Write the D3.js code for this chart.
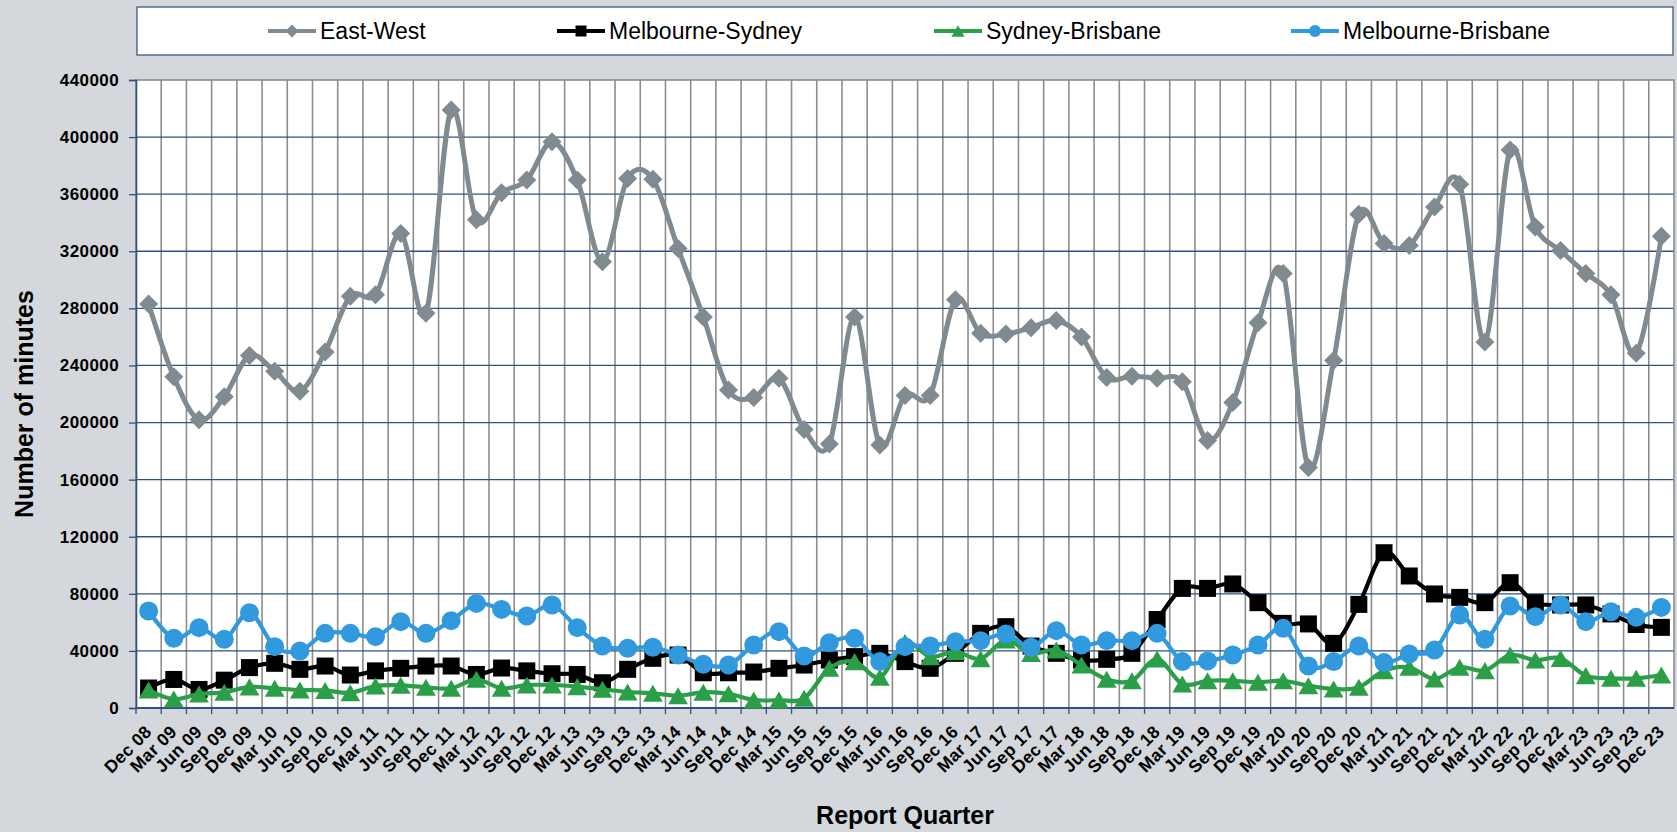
<!DOCTYPE html>
<html lang="en">
<head>
  <meta charset='utf-8'>
  <title>Report Quarter minutes</title>
  <style>
    html, body { margin: 0; padding: 0; background: #d4d8dc; }
    svg { display: block; font-family: "Liberation Sans", Arial, sans-serif; }
  </style>
</head>
<body>
  <div id="chart"></div>

<script src="https://d3js.org/d3.v7.min.js"></script>
<script>
    ////////////////////////////////////////////////// DATA
    var quarters = [
      "Dec 08","Mar 09","Jun 09","Sep 09","Dec 09","Mar 10","Jun 10","Sep 10","Dec 10",
      "Mar 11","Jun 11","Sep 11","Dec 11","Mar 12","Jun 12","Sep 12","Dec 12",
      "Mar 13","Jun 13","Sep 13","Dec 13","Mar 14","Jun 14","Sep 14","Dec 14",
      "Mar 15","Jun 15","Sep 15","Dec 15","Mar 16","Jun 16","Sep 16","Dec 16",
      "Mar 17","Jun 17","Sep 17","Dec 17","Mar 18","Jun 18","Sep 18","Dec 18",
      "Mar 19","Jun 19","Sep 19","Dec 19","Mar 20","Jun 20","Sep 20","Dec 20",
      "Mar 21","Jun 21","Sep 21","Dec 21","Mar 22","Jun 22","Sep 22","Dec 22",
      "Mar 23","Jun 23","Sep 23","Dec 23"
    ];

    var eastWest = [
      283000, 232000, 202000, 218000, 247000, 236000, 222000, 249500, 288500,
      289500, 332500, 276500, 419000, 342000, 361000, 370000, 396800,
      369900, 312700, 371000, 370500, 322000, 274000, 222800, 217500,
      231000, 195200, 185000, 274000, 184300, 219000, 219000, 286000,
      262500, 262000, 266500, 271500, 260000, 231500, 232500, 231000,
      228500, 187500, 214000, 270000, 304500, 168500, 243500, 346000,
      325500, 324000, 351000, 367000, 256500, 391000, 337000, 320500,
      304500, 289500, 248500, 330500
    ];

    var melbSyd = [
      14000, 20000, 13000, 19500, 28300, 31300, 27100, 29400, 23100,
      26000, 27800, 29400, 29400, 23500, 28000, 26000, 24000,
      23500, 17700, 27100, 34800, 37100, 24700, 24700, 25200,
      27800, 30100, 33600, 36000, 38300, 32500, 27800, 38300,
      52300, 57000, 43400, 38300, 33600, 34100, 38300, 62000,
      83800, 83800, 86900, 73800, 59300, 58900, 45300, 72600,
      108800, 92500, 79900, 77500, 73800, 87800, 73800, 72200,
      72200, 65900, 58500, 56500
    ];

    var sydBris = [
      12600, 6300, 9800, 11000, 14800, 13800, 12600, 12300, 10700,
      15400, 15900, 14500, 13800, 20100, 13800, 16100, 16100,
      15000, 13100, 11200, 10300, 8600, 11000, 10000, 5600,
      5600, 6800, 27800, 32500, 21500, 45800, 36000, 39500,
      34500, 47600, 38300, 40600, 30100, 20100, 19100, 34300,
      16800, 19100, 19100, 18000, 19100, 15600, 13300, 14500,
      26200, 28500, 20300, 28500, 26200, 37100, 33600, 34800,
      22700, 20800, 20800, 23100
    ];

    var melbBris = [
      68000, 48800, 56300, 48100, 66800, 43000, 39900, 52300, 52300,
      50000, 60500, 52300, 61200, 73300, 69100, 64500, 72200,
      56300, 43400, 41800, 42500, 37100, 30600, 30100, 44100,
      53500, 36400, 45800, 48800, 32500, 43000, 43400, 46500,
      47200, 51800, 42500, 54200, 44100, 47200, 47200, 52300,
      32500, 33000, 37100, 44100, 55800, 29400, 32500, 43400,
      31800, 37800, 40600, 65200, 48100, 71500, 64000, 72200,
      60500, 67500, 63500, 70500
    ];

    var seriesNames  = ["East-West", "Melbourne-Sydney", "Sydney-Brisbane", "Melbourne-Brisbane"];
    var seriesValues = [eastWest, melbSyd, sydBris, melbBris];
    var yTicks = d3.range(0, 440001, 40000);

    ////////////////////////////////////////////////// SETUP
    var width = 1677, height = 832;
    var plot = {left: 136, right: 1674, top: 80, bottom: 708};

    // Excel-like marker shapes, centred on the point (r = half of the marker box)
    function marker(kind, r){
        var p = d3.path();
        if (kind === "diamond") {
            p.moveTo(0, -r); p.lineTo(r, 0); p.lineTo(0, r); p.lineTo(-r, 0); p.closePath();
        } else if (kind === "square") {
            p.rect(-r, -r, 2 * r, 2 * r);
        } else if (kind === "triangle") {
            p.moveTo(0, -r * 0.95); p.lineTo(r * 1.1, r * 0.95); p.lineTo(-r * 1.1, r * 0.95); p.closePath();
        } else {
            p.arc(0, 0, r, 0, 2 * Math.PI);
        }
        return p.toString();
    }

    var styles = [
      {color: "#808a91", kind: "diamond",  r: 9.5, legendR: 6.5, width: 5},
      {color: "#000000", kind: "square",   r: 8.5, legendR: 5.5, width: 4.2},
      {color: "#2b9e48", kind: "triangle", r: 9,   legendR: 6,   width: 4.2},
      {color: "#3199dd", kind: "circle",   r: 9.5, legendR: 6,   width: 4.2}
    ];

    var svg = d3.select("#chart").append("svg")
        .attr("width", width)
        .attr("height", height);

    svg.append("rect")
        .attr("width", width).attr("height", height)
        .attr("fill", "#d4d8dc");

    var x = d3.scaleBand().domain(quarters).range([plot.left, plot.right]);
    var y = d3.scaleLinear().domain([0, 440000]).range([plot.bottom, plot.top]);
    var cx = d => x(d) + x.bandwidth() / 2;

    // plot area
    svg.append("rect")
        .attr("x", plot.left).attr("y", plot.top)
        .attr("width", plot.right - plot.left).attr("height", plot.bottom - plot.top)
        .attr("fill", "#fff");

    // vertical gridlines at category boundaries
    svg.append("g")
        .selectAll("line")
        .data(quarters.slice(1))
        .join("line")
        .attr("x1", d => x(d)).attr("x2", d => x(d))
        .attr("y1", plot.top).attr("y2", plot.bottom)
        .attr("stroke", "#8d8d8d")
        .attr("stroke-width", 1.6);

    // horizontal gridlines
    svg.append("g")
        .selectAll("line")
        .data(yTicks.slice(1, -1))
        .join("line")
        .attr("x1", plot.left).attr("x2", plot.right)
        .attr("y1", d => y(d)).attr("y2", d => y(d))
        .attr("stroke", "#2f5280")
        .attr("stroke-width", 1.3);

    // plot border
    svg.append("rect")
        .attr("x", plot.left).attr("y", plot.top)
        .attr("width", plot.right - plot.left).attr("height", plot.bottom - plot.top)
        .attr("fill", "none")
        .attr("stroke", "#8d8d8d")
        .attr("stroke-width", 1.6);

    // y axis
    var yAxis = svg.append("g")
        .attr("transform", `translate(${plot.left},0)`)
        .call(d3.axisLeft(y).tickValues(yTicks).tickFormat(d3.format("d")).tickSize(7).tickPadding(10));
    yAxis.select(".domain").attr("stroke", "#2f5280").attr("stroke-width", 1.6);
    yAxis.selectAll(".tick line").attr("stroke", "#2f5280").attr("stroke-width", 1.3);
    yAxis.selectAll(".tick text")
        .attr("font-family", "Liberation Sans, Arial, sans-serif")
        .attr("font-size", 17)
        .attr("font-weight", "bold")
        .attr("letter-spacing", "0.4px")
        .attr("fill", "#000");

    // x axis line + ticks at boundaries
    svg.append("line")
        .attr("x1", plot.left).attr("x2", plot.right)
        .attr("y1", plot.bottom).attr("y2", plot.bottom)
        .attr("stroke", "#2f5280").attr("stroke-width", 1.8);

    svg.append("g")
        .selectAll("line")
        .data(quarters)
        .join("line")
        .attr("x1", d => x(d)).attr("x2", d => x(d))
        .attr("y1", plot.bottom).attr("y2", plot.bottom + 6)
        .attr("stroke", "#2f5280").attr("stroke-width", 1.3);

    svg.append("g")
        .selectAll("text")
        .data(quarters)
        .join("text")
        .attr("transform", d => `translate(${cx(d) + 4},${plot.bottom + 25}) rotate(-45)`)
        .attr("text-anchor", "end")
        .attr("font-size", 17.5)
        .attr("font-weight", "bold")
        .attr("letter-spacing", "0.3px")
        .text(d => d);

    // axis titles
    svg.append("text")
        .attr("transform", `translate(33,${(plot.top + plot.bottom) / 2 + 10}) rotate(-90)`)
        .attr("text-anchor", "middle")
        .attr("font-size", 25)
        .attr("font-weight", "bold")
        .text("Number of minutes");

    svg.append("text")
        .attr("x", (plot.left + plot.right) / 2)
        .attr("y", 824)
        .attr("text-anchor", "middle")
        .attr("font-size", 25)
        .attr("font-weight", "bold")
        .text("Report Quarter");

    ////////////////////////////////////////////////// SERIES
    var line = d3.line()
        .x((d, i) => cx(quarters[i]))
        .y(d => y(d))
        .curve(d3.curveCatmullRom.alpha(0));

    seriesValues.forEach(function(values, s){
        var st = styles[s];
        var g = svg.append("g");
        g.append("path")
            .attr("d", line(values))
            .attr("fill", "none")
            .attr("stroke", st.color)
            .attr("stroke-width", st.width)
            .attr("stroke-linejoin", "round");
        g.selectAll("path.marker")
            .data(values)
            .join("path")
            .attr("class", "marker")
            .attr("transform", (d, i) => `translate(${cx(quarters[i])},${y(d)})`)
            .attr("d", marker(st.kind, st.r))
            .attr("fill", st.color);
    });

    ////////////////////////////////////////////////// LEGEND
    var legendBox = {x: 137, y: 7, w: 1536, h: 48};
    var legendX = [268, 557, 934, 1291];

    svg.append("rect")
        .attr("x", legendBox.x).attr("y", legendBox.y)
        .attr("width", legendBox.w).attr("height", legendBox.h)
        .attr("fill", "#fff")
        .attr("stroke", "#3a5a80")
        .attr("stroke-width", 1.3);

    var legend = svg.append("g")
        .selectAll("g")
        .data(seriesNames)
        .join("g")
        .attr("transform", (d, i) => `translate(${legendX[i]},${legendBox.y + legendBox.h / 2})`);

    legend.append("line")
        .attr("x1", 0).attr("x2", 48)
        .attr("stroke", (d, i) => styles[i].color)
        .attr("stroke-width", 4);

    legend.append("path")
        .attr("transform", "translate(24,0)")
        .attr("d", (d, i) => marker(styles[i].kind, styles[i].legendR))
        .attr("fill", (d, i) => styles[i].color);

    legend.append("text")
        .attr("x", 52)
        .attr("dy", "0.36em")
        .attr("font-size", 23)
        .text(d => d);
</script>
</body>
</html>
